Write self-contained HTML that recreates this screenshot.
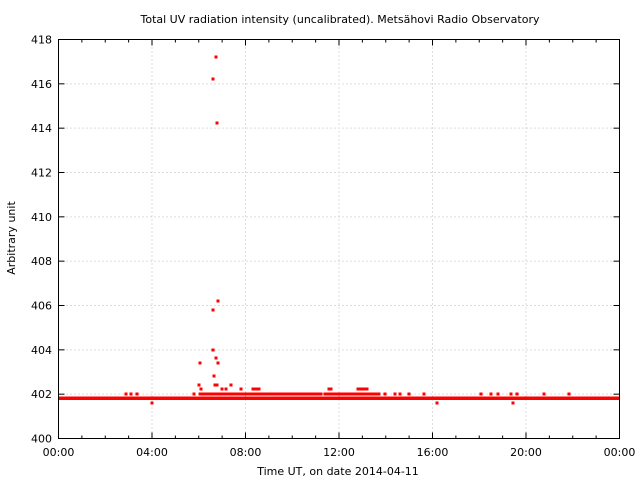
<!DOCTYPE html>
<html><head><meta charset="utf-8"><style>
html,body{margin:0;padding:0;background:#fff;width:640px;height:480px;overflow:hidden}
text{font-family:"DejaVu Sans","Liberation Sans",sans-serif;font-size:11px;fill:#000}
</style></head><body>
<svg id="s" width="640" height="480" xmlns="http://www.w3.org/2000/svg">
<text x="340" y="23" text-anchor="middle">Total UV radiation intensity (uncalibrated). Metsähovi Radio Observatory</text>
<text x="338" y="475" text-anchor="middle">Time UT, on date 2014-04-11</text>
<text transform="translate(15,238) rotate(-90)" text-anchor="middle">Arbitrary unit</text>
<g id="g"></g>
</svg>
<script>
var g=document.getElementById('g'),h='';
var X0=58.5,X1=619.5,Y0=438.5,Y1=39.5;
function xf(hr){return X0+(X1-X0)*hr/24}
function yf(v){return Y0-(Y0-Y1)*(v-400)/18}
for(var i=1;i<6;i++){var x=xf(i*4);h+='<line x1="'+x+'" y1="'+Y1+'" x2="'+x+'" y2="'+Y0+'" stroke="#bbb" stroke-dasharray="1,3"/>';}
for(var v=402;v<418;v+=2){var y=yf(v);h+='<line x1="'+X0+'" y1="'+y+'" x2="'+X1+'" y2="'+y+'" stroke="#bbb" stroke-dasharray="1,3"/>';}
for(var i=0;i<=24;i++){var x=xf(i),L=(i%4==0)?6:3;
h+='<line x1="'+x+'" y1="'+Y0+'" x2="'+x+'" y2="'+(Y0-L)+'" stroke="#000"/>';
h+='<line x1="'+x+'" y1="'+Y1+'" x2="'+x+'" y2="'+(Y1+L)+'" stroke="#000"/>';
if(i%4==0){var t=('0'+(i%24)).slice(-2)+':00';h+='<text x="'+x+'" y="456" text-anchor="middle">'+t+'</text>';}}
for(var v=400;v<=418;v+=2){var y=yf(v);
h+='<line x1="'+X0+'" y1="'+y+'" x2="'+(X0+6)+'" y2="'+y+'" stroke="#000"/>';
h+='<line x1="'+X1+'" y1="'+y+'" x2="'+(X1-6)+'" y2="'+y+'" stroke="#000"/>';
h+='<text x="52" y="'+(y+4)+'" text-anchor="end">'+v+'</text>';}
h+='<rect x="'+X0+'" y="396.5" width="'+(X1-X0)+'" height="3.5" fill="#f00"/>';
function p(x,y){h+='<rect x="'+(x-1.5)+'" y="'+(y-1.5)+'" width="3" height="3" fill="#f00"/>';}
var y2=394;
[126,131,137,194,385,395,400,409,424,481,491,498,511,517,544,569].forEach(function(x){p(x,y2)});
[[200,215],[217,300],[302,312],[315,322],[325,380]].forEach(function(s){for(var x=s[0];x<=s[1];x+=2)p(x,y2)});
[[152,403],[437,403],[513,403]].forEach(function(a){p(a[0],a[1])});
[[216,57],[213,79],[217,123],[218,301],[213,310],[213,350],[216,358],[218,363],[200,363],[199,385],[201,389],[214,376],[215,385],[217,385],[222,389],[226,389],[231,385],[241,389],[253,389],[256,389],[259,389],[329,389],[331,389],[358,389],[360,389],[363,389],[365,389],[367,389]].forEach(function(a){p(a[0],a[1])});
h+='<rect x="'+X0+'" y="'+Y1+'" width="'+(X1-X0)+'" height="'+(Y0-Y1)+'" fill="none" stroke="#000"/>';
g.innerHTML=h;
</script>
</body></html>
